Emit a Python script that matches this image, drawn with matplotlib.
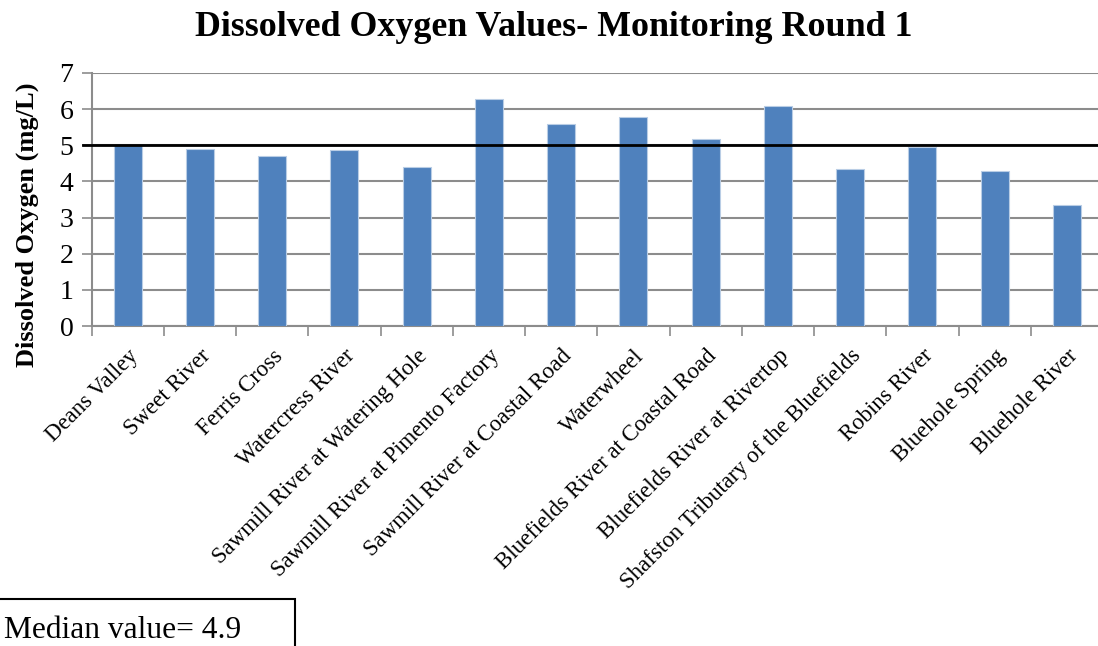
import matplotlib
matplotlib.use("Agg")
import matplotlib.pyplot as plt
from matplotlib.patches import Rectangle

plt.rcParams['font.family'] = ['Liberation Serif', 'DejaVu Serif']

sites = ["Deans Valley", "Sweet River", "Ferris Cross", "Watercress River",
         "Sawmill River at Watering Hole", "Sawmill River at Pimento Factory",
         "Sawmill River at Coastal Road", "Waterwheel",
         "Bluefields River at Coastal Road", "Bluefields River at Rivertop",
         "Shafston Tributary of the Bluefields", "Robins River",
         "Bluehole Spring", "Bluehole River"]
do_values = [5.0, 4.89, 4.71, 4.86, 4.39, 6.29, 5.59, 5.77, 5.17, 6.10,
             4.34, 4.94, 4.29, 3.36]
standard = 5.0
median_text = "Median value= 4.9"
title = "Dissolved Oxygen Values- Monitoring Round 1"
ylabel = "Dissolved Oxygen (mg/L)"
yticks = [0, 1, 2, 3, 4, 5, 6, 7]

W, H = 1098, 646
fig = plt.figure(figsize=(W / 100, H / 100), dpi=100)
left = 91.5 / W
bottom = 1 - 326 / H
top = 1 - 73 / H
width = (1103 - 91.5) / W
ax = fig.add_axes([left, bottom, width, top - bottom])

x = list(range(len(sites)))
ax.bar(x, do_values, width=0.39, color='#4F81BD', edgecolor='#B9CDE5',
       linewidth=0.8, zorder=3)
ax.axhline(standard, xmin=-0.008, color='black', linewidth=2, zorder=4,
           clip_on=False)

ax.set_xlim(-0.5, len(sites) - 0.5)
ax.set_ylim(0, 7)
ax.set_yticks(yticks)
ax.set_yticklabels([str(v) for v in yticks], fontsize=20)
ax.yaxis.grid(True, color='#8C8C8C', linewidth=1.5, zorder=0)
ax.set_axisbelow(True)

ax.set_xticks([i - 0.5 for i in x], minor=False)
ax.set_xticklabels([])
ax.set_xticks(x, minor=True)
ax.set_xticklabels(sites, minor=True, rotation=45, ha='right',
                   rotation_mode='anchor', fontsize=16.5)
ax.tick_params(axis='x', which='minor', length=0, pad=14)
ax.tick_params(axis='x', which='major', length=7, color='#8C8C8C', width=1.2)
ax.tick_params(axis='y', length=7, color='#8C8C8C', width=1.2, pad=6)

for s in ['top', 'right']:
    ax.spines[s].set_visible(False)
for s in ['left', 'bottom']:
    ax.spines[s].set_color('#8C8C8C')
    ax.spines[s].set_linewidth(1.5)

fig.text(27 / W, 1 - 225 / H, ylabel, fontsize=19, fontweight='bold',
         rotation=90, ha='center', va='center')

fig.text(554 / W, 1 - 28 / H, title, fontsize=25.8, fontweight='bold',
         ha='center', va='center')

rect = Rectangle((-0.01, -0.05), 295 / W + 0.01, 0.05 + (1 - 599 / H),
                 transform=fig.transFigure, fill=False, edgecolor='black',
                 linewidth=1.5)
fig.patches.append(rect)
fig.text(4 / W, 1 - 630 / H, median_text, fontsize=22.7, ha='left',
         va='center')

fig.savefig("out.png", dpi=100)
